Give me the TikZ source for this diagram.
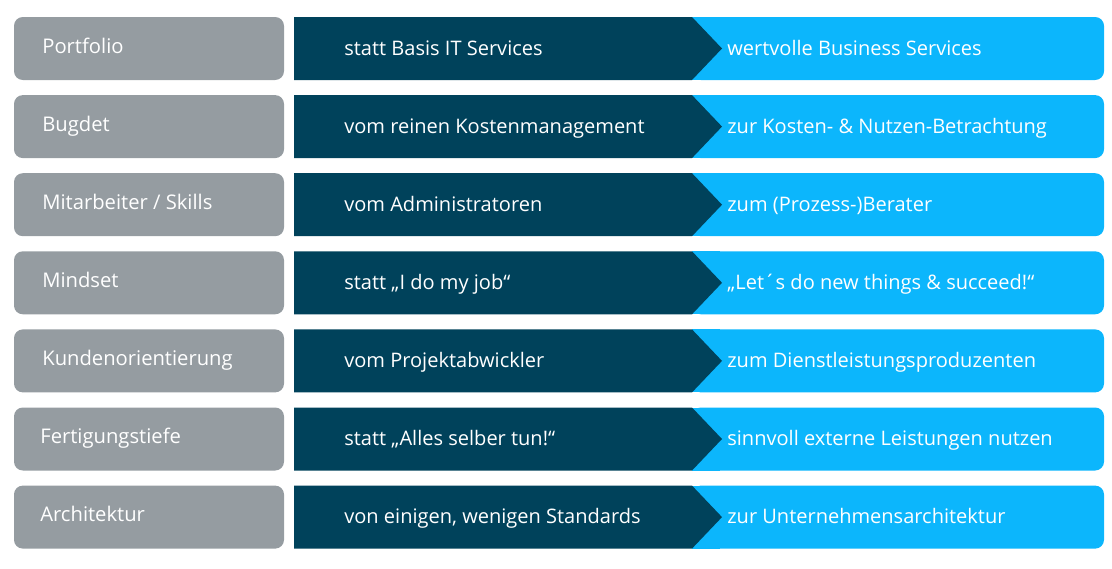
\documentclass[tikz,border=0pt]{standalone}
\usepackage{fontspec}
\setmainfont{Open Sans}

\definecolor{labgray}{HTML}{959CA1}
\definecolor{darkteal}{HTML}{00425B}
\definecolor{skyblue}{HTML}{0CB6FC}

\tikzset{
  lab/.style={anchor=base west, text=white, inner sep=0pt, font=\fontsize{11.5}{13}\selectfont},
  txt/.style={anchor=base west, text=white, inner sep=0pt, font=\fontsize{11.4}{13}\selectfont}
}

\begin{document}
\begin{tikzpicture}[x=0.02cm, y=-0.02cm]
% canvas
\useasboundingbox (0,0) rectangle (1112,568);
% seven rows: grey label, dark arrow, blue box
\foreach \i in {0,...,6} {
  \pgfmathsetmacro\t{17+78.1*\i}
  \pgfmathsetmacro\b{\t+63}
  \pgfmathsetmacro\m{\t+31.5}
  \fill[labgray, rounded corners=5pt] (14,\t) rectangle (284,\b);
  \fill[skyblue, rounded corners=5pt] (692,\t) rectangle (1104,\b);
  \fill[skyblue] (692,\t) rectangle (720,\b);
  \fill[darkteal] (294,\t) -- (692,\t) -- (722,\m) -- (692,\b) -- (294,\b) -- cycle;
}
% labels
\node[lab] (lab1) at (42,53) {Portfolio};
\node[lab] (lab2) at (42,131) {Bugdet};
\node[lab] (lab3) at (42,209) {Mitarbeiter / Skills};
\node[lab] (lab4) at (42,287) {Mindset};
\node[lab] (lab5) at (42,365) {Kundenorientierung};
\node[lab] (lab6) at (40,443) {Fertigungstiefe};
\node[lab] (lab7) at (40,521) {Architektur};
% from
\node[txt] (from1) at (344,55) {statt Basis IT Services};
\node[txt] (from2) at (344,133) {vom reinen Kostenmanagement};
\node[txt] (from3) at (344,211) {vom Administratoren};
\node[txt] (from4) at (344,289) {statt „I do my job“};
\node[txt] (from5) at (344,367) {vom Projektabwickler};
\node[txt] (from6) at (344,445) {statt „Alles selber tun!“};
\node[txt] (from7) at (344,523) {von einigen, wenigen Standards};
% to
\node[txt] (to1) at (727,55) {wertvolle Business Services};
\node[txt] (to2) at (727,133) {zur Kosten- \& Nutzen-Betrachtung};
\node[txt] (to3) at (727,211) {zum (Prozess-)Berater};
\node[txt] (to4) at (727,289) {„Let´s do new things \& succeed!“};
\node[txt] (to5) at (727,367) {zum Dienstleistungsproduzenten};
\node[txt] (to6) at (727,445) {sinnvoll externe Leistungen nutzen};
\node[txt] (to7) at (727,523) {zur Unternehmensarchitektur};
\end{tikzpicture}
\end{document}
